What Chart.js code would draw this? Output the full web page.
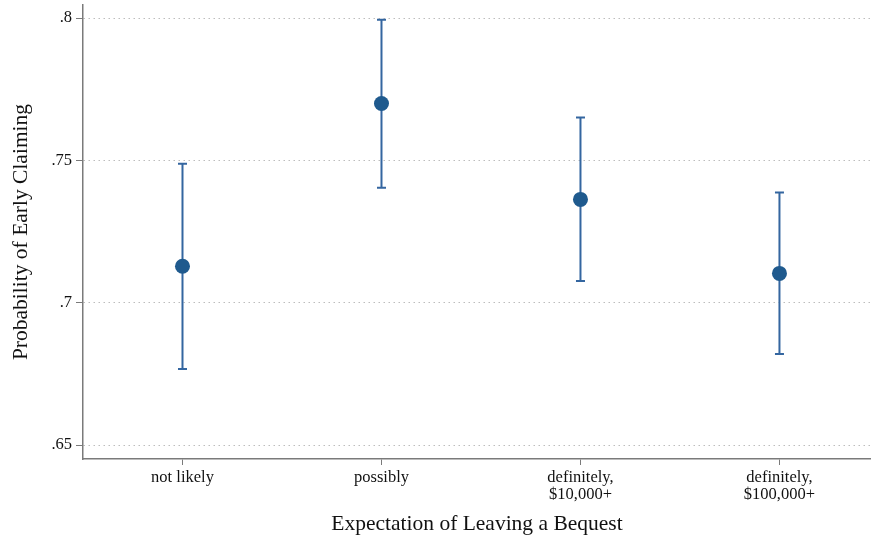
<!DOCTYPE html>
<html>
<head>
<meta charset="utf-8">
<script src="https://cdn.jsdelivr.net/npm/chart.js@4.4.1/dist/chart.umd.min.js"></script>
<style>
  html, body { margin: 0; padding: 0; background: #fff; }
  #wrap { width: 871px; height: 539px; }
</style>
</head>
<body>
<div id="wrap"><canvas id="c" width="871" height="539"></canvas></div>
<script>
const categories = [['not likely'], ['possibly'], ['definitely,', '$10,000+'], ['definitely,', '$100,000+']];
const estimates = [0.7128, 0.7700, 0.7363, 0.7103];
const lowerCI = [0.6767, 0.7404, 0.7076, 0.6820];
const upperCI = [0.7488, 0.7994, 0.7651, 0.7387];
const yTicks = [0.65, 0.70, 0.75, 0.80];

const navy = '#1f5a8e';
const barColor = '#3466a0';
const axisGray = '#7a7a7a';
const serif = "'Liberation Serif', 'Times New Roman', serif";

// confidence intervals, drawn under the points
const errorBars = {
    id: 'errorBars',
    beforeDatasetsDraw(chart) {
        const { ctx, scales: { x, y } } = chart;
        ctx.save();
        ctx.strokeStyle = barColor;
        ctx.lineWidth = 2;
        estimates.forEach((_, i) => {
            const px = x.getPixelForValue(i + 1);
            const top = y.getPixelForValue(upperCI[i]);
            const bot = y.getPixelForValue(lowerCI[i]);
            ctx.beginPath();
            ctx.moveTo(px, top); ctx.lineTo(px, bot);
            ctx.moveTo(px - 4.5, top); ctx.lineTo(px + 4.5, top);
            ctx.moveTo(px - 4.5, bot); ctx.lineTo(px + 4.5, bot);
            ctx.stroke();
        });
        ctx.restore();
    }
};

new Chart(document.getElementById('c'), {
    type: 'scatter',
    data: {
        datasets: [{
            data: estimates.map((v, i) => ({ x: i + 1, y: v })),
            backgroundColor: navy,
            borderColor: navy,
            pointRadius: 7.5,
            pointHoverRadius: 7.5,
            borderWidth: 0,
            clip: false
        }]
    },
    options: {
        responsive: false,
        animation: false,
        layout: { autoPadding: false, padding: { top: 5, right: 0, left: 0, bottom: 0 } },
        plugins: { legend: { display: false }, tooltip: { enabled: false } },
        scales: {
            x: {
                type: 'linear',
                min: 0.5,
                max: 4.46,
                afterBuildTicks: s => { s.ticks = [1, 2, 3, 4].map(v => ({ value: v })); },
                afterFit: s => { s.height = 80; s.paddingLeft = 0; s.paddingRight = 0; },
                ticks: {
                    callback: v => categories[v - 1],
                    color: '#111',
                    font: { family: serif, size: 16.5, lineHeight: 1.05 },
                    padding: 4,
                    maxRotation: 0
                },
                grid: { drawOnChartArea: false, tickLength: 6, tickColor: axisGray, tickWidth: 1 },
                border: { color: axisGray, width: 1.5 },
                title: {
                    display: true,
                    text: 'Expectation of Leaving a Bequest',
                    color: '#111',
                    font: { family: serif, size: 21.5 },
                    padding: { top: 4, bottom: 2 }
                }
            },
            y: {
                min: 0.6451,
                max: 0.8046,
                afterBuildTicks: s => { s.ticks = yTicks.map(v => ({ value: v })); },
                afterFit: s => { s.width = 83; s.paddingTop = 0; s.paddingBottom = 0; },
                ticks: {
                    callback: v => String(+v.toFixed(2)).replace(/^0/, ''),
                    color: '#111',
                    font: { family: serif, size: 16.5 },
                    padding: 4
                },
                grid: { color: '#bdbdbd', lineWidth: 1, tickLength: 7, tickColor: axisGray, tickBorderDash: [] },
                border: { color: axisGray, width: 1.5, dash: [1.5, 3.5] },
                title: {
                    display: true,
                    text: 'Probability of Early Claiming',
                    color: '#111',
                    font: { family: serif, size: 21.5 },
                    padding: { top: 8, bottom: 4 }
                }
            }
        }
    },
    plugins: [errorBars]
});
</script>
</body>
</html>
